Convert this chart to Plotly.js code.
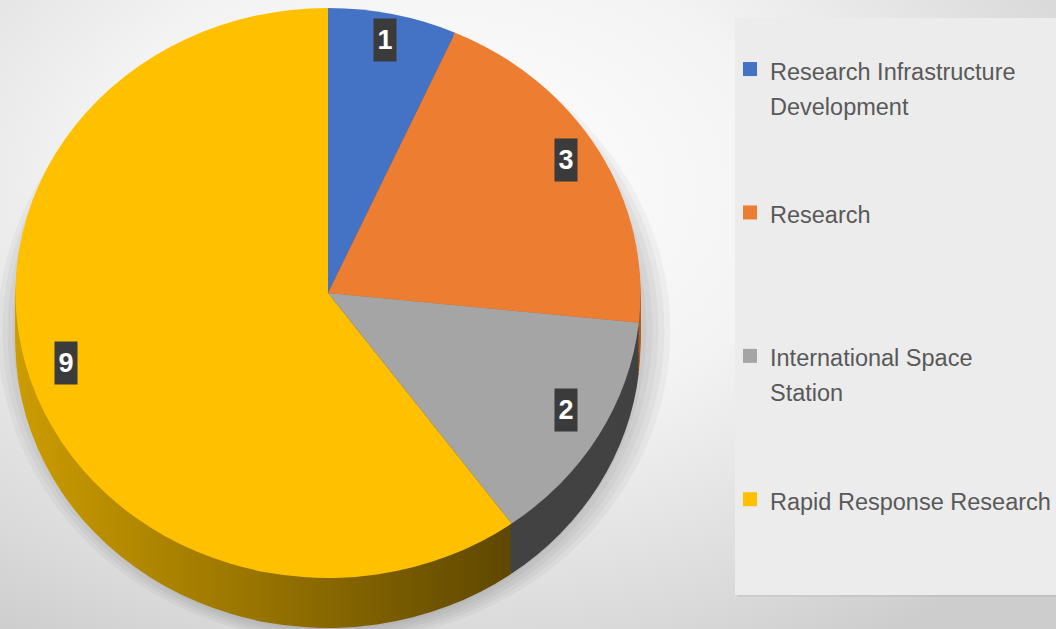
<!DOCTYPE html>
<html>
<head>
<meta charset="utf-8">
<script src="https://cdn.plot.ly/plotly-3.0.1.min.js"></script>
<style>
  html, body { margin: 0; padding: 0; }
  body {
    width: 1056px; height: 629px; overflow: hidden;
    background: radial-gradient(ellipse 75% 85% at 42% 30%, #ffffff 0%, #f3f3f3 45%, #d9d9d9 85%, #cdcdcd 100%);
  }
  #chart { width: 1056px; height: 629px; }
</style>
</head>
<body>
<div id="chart"></div>
<script>
// ---- data ----
const categories = ['Research Infrastructure<br>Development', 'Research', 'International Space<br>Station', 'Rapid Response Research'];
const values = [1, 3, 2, 9];
const topColors = ['#4472c4', '#ed7d31', '#a5a5a5', '#ffc000'];
const sideColors = ['#2f5597', '#ae5a21', '#424242', '#a37c00'];

// ---- geometry (pixels) ----
const W = 1056, H = 629;
const cx = 328, cy = 293, rx = 312.5, ry = 285;   // top-face ellipse
const depth = 50, layers = 12;
const textSize = 23.5;

// legend labels padded so every entry takes 4 lines
const legendLabels = categories.map(c => {
  const parts = c.split('<br>');
  const lines = parts.map(p => '<span style="font-size:' + textSize + 'px">' + p + '</span>');
  for (let i = parts.length; i < 4; i++) lines.push('\u00a0');
  return lines.join('<br>');
});

function pieDomain(offset) {
  return {
    x: [(cx - ry) / W, (cx + ry) / W],
    y: [1 - (cy + ry + offset) / H, 1 - (cy - ry + offset) / H]
  };
}

const traces = [];
for (let i = layers; i >= 1; i--) {
  const d = depth * i / layers;
  traces.push({
    type: 'pie', labels: legendLabels, values: values, sort: false,
    direction: 'clockwise', rotation: 0, domain: pieDomain(d),
    marker: { colors: sideColors, line: { width: 0 } },
    textinfo: 'none', hoverinfo: 'skip', showlegend: false
  });
}
traces.push({
  type: 'pie', labels: legendLabels, values: values, sort: false,
  direction: 'clockwise', rotation: 0, domain: pieDomain(0),
  marker: { colors: topColors, line: { width: 0 } },
  textinfo: 'none', hoverinfo: 'label+value', showlegend: true
});

// data labels at slice mid-angles
const total = values.reduce((a, b) => a + b, 0);
let cum = 0;
const annotations = values.map(v => {
  const mid = (cum + v / 2) / total * 2 * Math.PI;
  cum += v;
  const f = 0.88;
  const px = cx + f * rx * Math.sin(mid);
  const py = cy - 8 - f * ry * Math.cos(mid);
  return {
    xref: 'paper', yref: 'paper', x: px / W, y: 1 - py / H,
    text: '<b>' + v + '</b>', showarrow: false,
    font: { family: 'Liberation Sans, Arial, sans-serif', size: 27, color: '#ffffff' },
    bgcolor: '#3b3b3b', width: 22, height: 42, borderpad: 0,
    xanchor: 'center', yanchor: 'middle'
  };
});

// soft shadow under the pie
const shadowShapes = [0, 1, 2, 3, 4].map(k => ({
  type: 'circle', xref: 'paper', yref: 'paper', layer: 'below',
  x0: (cx - rx - 4 - 5 * k + 6) / W, x1: (cx + rx + 6 + 6 * k) / W,
  y0: 1 - (cy + ry + depth + 2 + 3 * k) / H, y1: 1 - (cy - ry + 20 - 2 * k) / H,
  fillcolor: 'rgba(0,0,0,0.035)', line: { width: 0 }
}));

const layout = {
  width: W, height: H,
  margin: { l: 0, r: 0, t: 0, b: 0 },
  paper_bgcolor: 'rgba(0,0,0,0)', plot_bgcolor: 'rgba(0,0,0,0)',
  showlegend: true,
  legend: {
    x: 1, y: 1 - 50 / H, xanchor: 'right', yanchor: 'top',
    bgcolor: 'rgba(0,0,0,0)', valign: 'top', traceorder: 'normal',
    font: { family: 'Liberation Sans, Arial, sans-serif', size: 27, color: '#595959' }
  },
  shapes: shadowShapes.concat([{
    type: 'rect', xref: 'paper', yref: 'paper', layer: 'below',
    x0: 737 / W, x1: 1, y0: 1 - 597 / H, y1: 1 - 20 / H,
    fillcolor: 'rgba(0,0,0,0.05)', line: { width: 0 }
  }, {
    type: 'rect', xref: 'paper', yref: 'paper', layer: 'below',
    x0: 735 / W, x1: 1, y0: 1 - 595 / H, y1: 1 - 18 / H,
    fillcolor: '#ececec', line: { width: 0 }
  }]),
  annotations: annotations
};

const gd = document.getElementById('chart');
Plotly.newPlot(gd, traces, layout, { displayModeBar: false, staticPlot: true }).then(() => {
  const sx = rx / ry;
  const pl = gd.querySelector('.pielayer');
  if (pl) pl.setAttribute('transform', `matrix(${sx},0,0,1,${cx * (1 - sx)},0)`);
  // larger legend swatches
  gd.querySelectorAll('.legend .legendpoints path').forEach(p => p.setAttribute('d', 'M7,7H-7V-7H7Z'));
  // shaded side of the gold slice
  const NS = 'http://www.w3.org/2000/svg';
  const defs = gd.querySelector('svg.main-svg defs');
  if (defs) {
    const lg = document.createElementNS(NS, 'linearGradient');
    lg.setAttribute('id', 'sideGold');
    lg.setAttribute('x1', '0'); lg.setAttribute('y1', '0');
    lg.setAttribute('x2', '1'); lg.setAttribute('y2', '0');
    [['0', '#cc9c00'], ['0.45', '#9c7700'], ['1', '#5e4700']].forEach(([o, c]) => {
      const st = document.createElementNS(NS, 'stop');
      st.setAttribute('offset', o); st.setAttribute('stop-color', c);
      lg.appendChild(st);
    });
    defs.appendChild(lg);
    const tr = gd.querySelectorAll('.pielayer .trace');
    for (let i = 0; i < layers; i++) {
      const sl = tr[i].querySelectorAll('.slice');
      const p = sl[3] && sl[3].querySelector('path.surface');
      if (p) p.style.fill = 'url(#sideGold)';
    }
  }
});
</script>
</body>
</html>
